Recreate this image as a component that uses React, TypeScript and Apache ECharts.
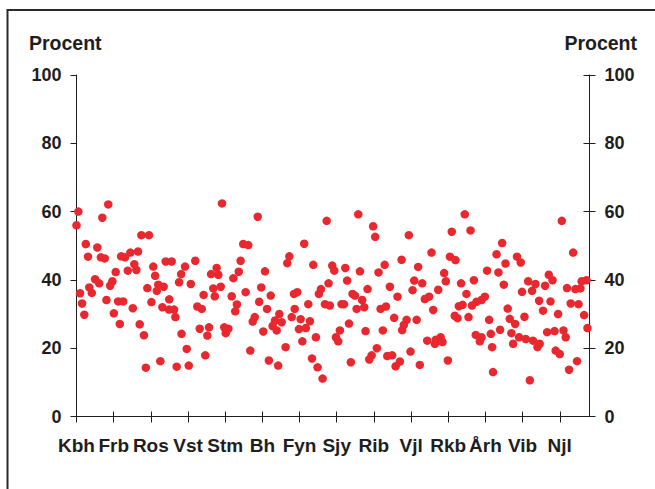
import React, { useEffect, useRef } from 'react';
import * as echarts from 'echarts';

// Amts-/regionsforkortelser langs x-aksen (en mærke for hver 20 kommuner)
const regions = ['Kbh', 'Frb', 'Ros', 'Vst', 'Stm', 'Bh', 'Fyn', 'Sjy', 'Rib', 'Vjl', 'Rkb', 'Årh', 'Vib', 'Njl'];
const regionStep = 20;
const xMax = 276;
const yMin = 0;
const yMax = 100;
const yStep = 20;
const axisTitle = 'Procent';

// [kommuneposition, procent]
const pointsA: [number, number][] = [
  [1.0, 60.0], [0, 56.0], [17.1, 62.1], [13.9, 58.2], [5.0, 50.5], [11.2, 49.5], [6.2, 46.8], [13.1, 46.6],
  [15.2, 46.3], [34.9, 53.1], [39.0, 53.1], [24.0, 46.9], [26.1, 46.6], [29.0, 48.0], [33.1, 48.3], [31.1, 44.6],
  [27.6, 42.7], [32.2, 42.9], [21.1, 42.3], [41.3, 43.9], [42.3, 41.2], [48.0, 45.4], [51.2, 45.4], [10.0, 40.2],
  [12.2, 39.0], [19.3, 39.6], [18.1, 38.3], [6.9, 37.8], [8.2, 36.2], [1.9, 36.1], [3.0, 33.1], [4.2, 29.8],
  [16.1, 34.1], [22.4, 33.7], [25.1, 33.7], [20.1, 30.2], [23.3, 27.1], [30.3, 31.7], [38.1, 37.6], [40.3, 33.5],
  [44.0, 38.6], [46.9, 38.0], [43.2, 36.8], [49.9, 34.3], [46.2, 32.0], [49.8, 31.3], [52.5, 31.3], [53.2, 29.1],
  [34.0, 27.0], [36.3, 23.8], [37.3, 14.3], [45.1, 16.2], [53.9, 14.6],
];

const pointsB: [number, number][] = [
  [78.3, 62.4], [97.5, 58.5], [89.7, 50.5], [92.4, 50.2], [63.9, 45.6], [58.4, 43.9], [56.3, 41.7], [55.2, 39.3],
  [61.5, 38.8], [72.4, 41.7], [75.4, 43.5], [76.3, 41.5], [88.3, 45.6], [87.3, 42.4], [84.4, 40.5], [101.4, 42.5],
  [68.4, 35.6], [73.6, 37.5], [77.6, 38.0], [74.4, 35.2], [83.5, 35.2], [91.0, 36.4], [99.4, 37.8], [104.5, 35.4],
  [65.0, 32.2], [67.4, 31.5], [86.3, 32.8], [85.4, 30.8], [98.3, 33.6], [102.5, 31.5], [95.9, 29.1], [94.8, 27.8],
  [109.1, 30.0], [106.8, 28.1], [110.4, 27.6], [105.5, 26.5], [107.7, 25.2], [66.3, 25.7], [71.3, 26.1], [70.4, 23.7],
  [79.5, 26.1], [81.7, 25.7], [80.3, 24.4], [56.5, 24.2], [100.5, 24.9], [59.3, 19.8], [69.3, 17.9], [93.5, 19.3],
  [103.5, 16.4], [108.5, 14.9], [60.4, 14.9],
];

const pointsC: [number, number][] = [
  [134.6, 57.3], [151.6, 59.2], [159.6, 55.7], [160.7, 52.6], [122.5, 50.6], [114.5, 46.9], [113.4, 44.9], [127.4, 44.4],
  [137.6, 44.2], [138.7, 42.7], [144.6, 43.5], [152.5, 42.5], [162.5, 42.2], [165.8, 44.4], [168.6, 38.0], [135.6, 39.0],
  [145.6, 39.8], [156.6, 37.3], [131.5, 37.3], [130.4, 35.9], [117.0, 35.9], [118.8, 36.4], [148.5, 35.9], [149.8, 35.4],
  [153.7, 34.1], [124.7, 32.9], [133.7, 32.9], [136.3, 32.5], [142.6, 32.9], [143.9, 32.9], [150.7, 31.5], [154.8, 32.0],
  [163.6, 31.5], [166.5, 32.2], [117.4, 31.5], [115.8, 29.1], [120.6, 28.5], [125.6, 27.9], [119.7, 25.6], [123.4, 25.9],
  [128.8, 23.2], [121.5, 22.0], [141.7, 25.2], [146.6, 27.2], [139.6, 23.2], [140.8, 22.0], [155.5, 25.0], [164.8, 25.2],
  [112.5, 20.3], [161.6, 20.0], [158.8, 17.9], [157.5, 16.7], [167.2, 17.7], [126.7, 17.0], [129.7, 14.4], [147.6, 15.9],
  [132.4, 11.1],
];

const pointsD: [number, number][] = [
  [208.9, 59.2], [201.9, 54.1], [212.0, 54.5], [178.8, 53.1], [191.0, 48.0], [200.9, 46.8], [203.9, 45.8], [174.9, 45.9],
  [183.8, 43.8], [197.8, 42.0], [198.7, 39.6], [220.9, 42.7], [181.7, 39.8], [186.0, 39.0], [206.9, 39.0], [213.8, 39.9],
  [180.8, 37.0], [194.6, 37.1], [209.8, 35.9], [172.7, 35.1], [187.4, 34.4], [189.7, 35.1], [219.7, 35.1], [217.9, 34.1],
  [215.2, 33.6], [212.8, 32.5], [205.7, 32.3], [207.7, 32.7], [191.9, 31.2], [203.5, 29.5], [205.0, 28.8], [210.9, 29.1],
  [222.0, 28.3], [170.9, 28.9], [177.6, 28.3], [176.1, 26.8], [175.2, 25.3], [183.0, 28.3], [188.7, 22.2], [193.3, 22.5],
  [195.9, 23.2], [192.8, 21.3], [196.9, 21.8], [214.8, 23.9], [217.9, 23.2], [217.0, 22.0], [222.9, 24.2], [223.6, 20.3],
  [179.7, 19.0], [169.8, 17.9], [174.0, 16.1], [171.7, 14.7], [184.7, 15.1], [199.8, 16.4], [224.1, 13.0],
];

const pointsE: [number, number][] = [
  [261.1, 57.3], [229.0, 50.8], [226.0, 47.5], [267.2, 48.0], [237.0, 46.8], [239.0, 45.1], [230.8, 44.8], [227.0, 42.2],
  [229.9, 38.6], [243.0, 39.6], [246.9, 38.8], [245.1, 36.8], [239.7, 36.5], [252.1, 38.3], [254.1, 41.5], [256.1, 39.9],
  [263.9, 37.6], [268.4, 37.3], [271.1, 37.5], [271.8, 39.6], [274.4, 39.9], [248.9, 33.9], [255.0, 33.7], [251.0, 31.0],
  [265.9, 33.1], [270.1, 32.9], [232.0, 31.6], [241.0, 29.2], [259.1, 30.0], [273.1, 29.7], [233.1, 28.6], [236.0, 27.1],
  [227.9, 25.4], [234.0, 24.4], [238.1, 23.2], [241.7, 22.7], [245.6, 22.2], [249.2, 21.3], [248.0, 20.3], [234.9, 21.3],
  [253.2, 24.7], [257.2, 25.0], [262.0, 25.2], [263.2, 23.2], [274.9, 25.9], [257.8, 19.3], [260.0, 18.3], [269.3, 16.2],
  [265.0, 13.7], [243.9, 10.6],
];

const FONT = "'Liberation Sans', Arial, Helvetica, sans-serif";
const INK = '#1e1e1e';

export default function App() {
  const ref = useRef<HTMLDivElement>(null);

  useEffect(() => {
    if (!ref.current) return;
    const chart = echarts.init(ref.current, null, { renderer: 'svg' });
    const tickVals = regions.map((_, i) => i * regionStep);
    const lineStyle = { color: INK, width: 1 };
    const gridBox = { left: 76.5, right: 65.5, top: 75, bottom: 72.5 };
    const labelFont = { fontFamily: FONT, fontWeight: 'bold' as const, color: INK };

    chart.setOption({
      animation: false,
      backgroundColor: '#ffffff',
      grid: [{ ...gridBox }, { ...gridBox }],
      graphic: [
        {
          type: 'rect',
          shape: { x: 7.5, y: 10, width: 700, height: 600 },
          style: { fill: 'none', stroke: '#2a2a2a', lineWidth: 2 },
          silent: true,
        },
        {
          type: 'text',
          x: 29,
          y: 43,
          style: { text: axisTitle, font: `bold 19.5px ${FONT}`, fill: INK, textAlign: 'left', textVerticalAlign: 'middle' },
        },
        {
          type: 'text',
          x: 637,
          y: 43,
          style: { text: axisTitle, font: `bold 19.5px ${FONT}`, fill: INK, textAlign: 'right', textVerticalAlign: 'middle' },
        },
      ],
      xAxis: [
        {
          type: 'value',
          gridIndex: 0,
          position: 'bottom',
          min: 0,
          max: xMax,
          interval: regionStep,
          axisLine: { show: true, onZero: false, lineStyle },
          axisTick: { show: true, inside: false, length: 6, customValues: tickVals, lineStyle },
          axisLabel: {
            show: true,
            customValues: tickVals,
            formatter: (v: number) => {
              const i = Math.round(v / regionStep);
              return Math.abs(v - i * regionStep) < 0.01 && regions[i] ? regions[i] : '';
            },
            margin: 19,
            fontSize: 19,
            ...labelFont,
          },
          splitLine: { show: false },
        },
        {
          type: 'value',
          gridIndex: 1,
          position: 'bottom',
          min: 0,
          max: xMax,
          interval: regionStep,
          axisLine: { show: false, onZero: false },
          axisTick: { show: true, inside: true, length: 5, customValues: tickVals, lineStyle },
          axisLabel: { show: false },
          splitLine: { show: false },
        },
      ],
      yAxis: [
        {
          type: 'value',
          gridIndex: 0,
          position: 'left',
          min: yMin,
          max: yMax,
          interval: yStep,
          axisLine: { show: true, onZero: false, lineStyle },
          axisTick: { show: true, inside: false, length: 6, lineStyle },
          axisLabel: { show: true, margin: 15, fontSize: 18, ...labelFont },
          splitLine: { show: false },
        },
        {
          type: 'value',
          gridIndex: 0,
          position: 'right',
          min: yMin,
          max: yMax,
          interval: yStep,
          axisLine: { show: true, onZero: false, lineStyle },
          axisTick: { show: true, inside: false, length: 6, lineStyle },
          axisLabel: { show: true, margin: 15, fontSize: 18, ...labelFont },
          splitLine: { show: false },
        },
        {
          type: 'value',
          gridIndex: 1,
          position: 'right',
          min: yMin,
          max: yMax,
          interval: yStep,
          axisLine: { show: false, onZero: false },
          axisTick: { show: true, inside: true, length: 6, lineStyle },
          axisLabel: { show: false },
          splitLine: { show: false },
        },
      ],
      series: [
        {
          type: 'scatter',
          xAxisIndex: 0,
          yAxisIndex: 0,
          symbol: 'circle',
          symbolSize: 8.5,
          itemStyle: { color: '#e8282e', opacity: 1 },
          data: [...pointsA, ...pointsB, ...pointsC, ...pointsD, ...pointsE],
          silent: true,
        },
      ],
    });

    return () => {
      chart.dispose();
    };
  }, []);

  return (
    <div
      ref={ref}
      style={{ position: 'fixed', left: 0, top: 0, width: 655, height: 489, background: '#fff' }}
    />
  );
}
